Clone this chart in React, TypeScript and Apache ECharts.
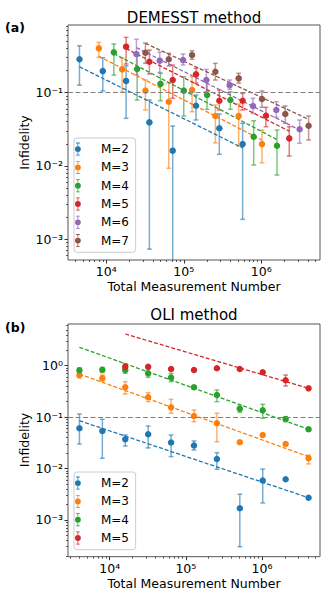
import React, { useEffect, useRef } from 'react';
import * as echarts from 'echarts';

const FONT = '"DejaVu Sans", sans-serif';
const COLORS = ['#1f77b4', '#ff7f0e', '#2ca02c', '#d62728', '#9467bd', '#8c564b'];

// ---------- Panel (a): DEMESST method ----------
const demessNames = ['M=2', 'M=3', 'M=4', 'M=5', 'M=6', 'M=7'];
const demessX = [
  [4500, 9000, 18000, 36000, 72000, 144000, 288000, 576000],
  [8000, 16000, 32000, 64000, 128000, 256000, 512000, 1024000],
  [12500, 25000, 50000, 100000, 200000, 400000, 800000, 1600000],
  [18000, 36000, 72000, 144000, 288000, 576000, 1152000, 2304000],
  [24500, 49000, 98000, 196000, 392000, 784000, 1568000, 3136000],
  [32000, 64000, 128000, 256000, 512000, 1024000, 2048000, 4096000],
];
const demessY = [
  [0.284, 0.196, 0.144, 0.0392, 0.0161, 0.066, 0.0325, 0.0198],
  [0.401, 0.207, 0.106, 0.0749, 0.108, 0.0478, 0.0478, 0.0198],
  [0.353, 0.209, 0.131, 0.106, 0.0925, 0.079, 0.0249, 0.0188],
  [0.422, 0.263, 0.148, 0.177, 0.0773, 0.0773, 0.0482, 0.0237],
  [0.335, 0.272, 0.277, 0.148, 0.126, 0.0655, 0.0577, 0.0315],
  [0.349, 0.284, 0.325, 0.192, 0.156, 0.0815, 0.0509, 0.0352],
];
const demessLo = [
  [0.126, 0.105, 0.0445, 0.00073, 0.00001, 0.0422, 0.01435, 0.00186],
  [0.302, 0.1016, 0.0577, 0.00925, 0.0547, 0.0205, 0.0186, 0.011],
  [0.173, 0.079, 0.0773, 0.0478, 0.059, 0.059, 0.01026, 0.00749],
  [0.245, 0.179, 0.0834, 0.134, 0.0577, 0.0577, 0.0341, 0.0136],
  [0.173, 0.188, 0.237, 0.1026, 0.1107, 0.052, 0.0459, 0.0203],
  [0.25, 0.23, 0.284, 0.148, 0.134, 0.0628, 0.038, 0.0225],
];
const demessHi = [
  [0.434, 0.299, 0.232, 0.079, 0.0349, 0.0925, 0.0509, 0.038],
  [0.484, 0.296, 0.148, 0.135, 0.164, 0.0675, 0.0696, 0.0308],
  [0.459, 0.315, 0.183, 0.164, 0.148, 0.1026, 0.0412, 0.0308],
  [0.566, 0.38, 0.237, 0.214, 0.108, 0.0975, 0.0628, 0.0341],
  [0.532, 0.357, 0.335, 0.207, 0.148, 0.0834, 0.0749, 0.0422],
  [0.473, 0.343, 0.372, 0.25, 0.183, 0.105, 0.0655, 0.0478],
];
const demessFitX = [
  [4500, 576000], [8000, 1024000], [12500, 1600000],
  [18000, 2304000], [24500, 3136000], [32000, 4096000],
];
const demessFitY = [
  [0.2245, 0.01754], [0.312, 0.0225], [0.34, 0.0228],
  [0.397, 0.0297], [0.41, 0.0308], [0.469, 0.0431],
];
const demessXTicks = [1e4, 1e5, 1e6];
const demessYTicks = [1e-3, 1e-2, 1e-1];
const demessXRange = [3199, 5.75e6];
const demessYRange = [5.19e-4, 0.834];

// ---------- Panel (b): OLI method ----------
const oliNames = ['M=2', 'M=3', 'M=4', 'M=5'];
const oliX = [
  [4000, 8000, 16000, 32000, 64000, 128000, 256000, 512000, 1024000, 2048000, 4096000],
  [4000, 8000, 16000, 32000, 64000, 128000, 256000, 512000, 1024000, 2048000, 4096000],
  [4000, 8000, 16000, 32000, 64000, 128000, 256000, 512000, 1024000, 2048000, 4096000],
  [16000, 32000, 64000, 128000, 256000, 512000, 1024000, 2048000, 4096000],
];
const oliY = [
  [0.0605, 0.0537, 0.037, 0.0463, 0.0321, 0.028, 0.0153, 0.00168, 0.00585, 0.00616, 0.0027],
  [0.659, 0.569, 0.38, 0.243, 0.155, 0.105, 0.0757, 0.0324, 0.0449, 0.03, 0.0158],
  [0.814, 0.836, 0.825, 0.711, 0.589, 0.38, 0.269, 0.1456, 0.1356, 0.0918, 0.0579],
  [0.956, 0.956, 0.863, 0.825, 0.89, 0.863, 0.744, 0.52, 0.363],
];
const oliLo = [
  [0.03, 0.0158, 0.0274, 0.0251, 0.017, 0.0229, 0.00964, 0.000301, 0.00213, 0.00616, 0.0027],
  [0.576, 0.504, 0.281, 0.1995, 0.1186, 0.0814, 0.0332, 0.0324, 0.0449, 0.03, 0.01224],
  [0.721, 0.737, 0.711, 0.594, 0.489, 0.352, 0.1995, 0.124, 0.0948, 0.0814, 0.0536],
  [0.88, 0.956, 0.863, 0.825, 0.89, 0.863, 0.744, 0.403, 0.363],
];
const oliHi = [
  [0.1148, 0.0906, 0.0449, 0.0671, 0.0449, 0.0343, 0.0203, 0.00315, 0.00977, 0.00616, 0.0027],
  [0.754, 0.659, 0.489, 0.298, 0.222, 0.1375, 0.1186, 0.0324, 0.0449, 0.03, 0.0183],
  [0.902, 0.923, 1.03, 0.851, 0.711, 0.408, 0.337, 0.164, 0.1775, 0.1018, 0.0627],
  [1.1, 0.956, 0.863, 0.825, 0.89, 0.863, 0.744, 0.659, 0.363],
];
const oliFitX = [[4000, 4096000], [4000, 4096000], [4000, 4096000], [16000, 4096000]];
const oliFitY = [[0.0851, 0.0027], [0.69, 0.017], [2.28, 0.058], [4.14, 0.363]];
const oliXTicks = [1e4, 1e5, 1e6];
const oliYTicks = [1e-3, 1e-2, 1e-1, 1e0];
const oliXRange = [2831, 5.79e6];
const oliYRange = [1.92e-4, 6.48];

const thresholdY = 0.1;

// ---------- helpers ----------
const SUP = '⁰¹²³⁴⁵⁶⁷⁸⁹';
function sup(n: number): string {
  return String(n).split('').map((c) => (c === '-' ? '⁻' : SUP[+c])).join('');
}
const fmtPow = (v: number) => '10' + sup(Math.round(Math.log10(v)));

function minorTicks(lo: number, hi: number): number[] {
  const out: number[] = [];
  for (let e = Math.floor(Math.log10(lo)); e <= Math.ceil(Math.log10(hi)); e++) {
    for (let k = 2; k <= 9; k++) {
      const v = k * Math.pow(10, e);
      if (v >= lo && v <= hi) out.push(v);
    }
  }
  return out;
}

const ERR_ICON =
  'path://M1.6,0.3H5.4V1.1H1.6Z M3.1,1.1H3.9V12.9H3.1Z M1.6,12.9H5.4V13.7H1.6Z M0.5,7A3,3 0 1 1 6.5,7A3,3 0 1 1 0.5,7Z';

const TICK_COLOR = '#333';

function axisPair(dim: 'x' | 'y', grid: number, range: number[], ticks: number[]) {
  const pos = dim === 'x' ? 'bottom' : 'left';
  const major = {
    type: 'log',
    logBase: 10,
    gridIndex: grid,
    min: range[0],
    max: range[1],
    position: pos,
    axisLine: { show: false },
    splitLine: { show: false },
    minorTick: { show: false },
    axisTick: { show: true, customValues: ticks, length: 3.5, lineStyle: { color: TICK_COLOR, width: 1 } },
    axisLabel: {
      customValues: ticks,
      formatter: fmtPow,
      margin: dim === 'x' ? 5.5 : 5,
      fontSize: 12.5,
      lineHeight: 12,
      color: '#000',
      fontFamily: FONT,
    },
  };
  const minor = {
    type: 'log',
    logBase: 10,
    gridIndex: grid,
    min: range[0],
    max: range[1],
    position: pos,
    axisLine: { show: false },
    splitLine: { show: false },
    minorTick: { show: false },
    axisTick: { show: true, customValues: minorTicks(range[0], range[1]), length: 2, lineStyle: { color: TICK_COLOR, width: 0.8 } },
    axisLabel: { show: false },
  };
  return [major, minor];
}

function errRender(color: string) {
  return (params: any, api: any) => {
    const x = api.value(0);
    const lo = api.value(1);
    const hi = api.value(2);
    const cs = params.coordSys;
    const bottom = cs.y + cs.height;
    const pHi = api.coord([x, hi]);
    const pLo = api.coord([x, lo]);
    const clipped = !(pLo[1] <= bottom);
    const yLo = clipped ? bottom : pLo[1];
    const px = pHi[0];
    const st = { stroke: color, lineWidth: 1.5, opacity: 0.6 };
    const cw = 2.4;
    const children: any[] = [
      { type: 'line', shape: { x1: px, y1: yLo, x2: px, y2: pHi[1] }, style: st },
      { type: 'line', shape: { x1: px - cw, y1: pHi[1], x2: px + cw, y2: pHi[1] }, style: st },
    ];
    if (!clipped) {
      children.push({ type: 'line', shape: { x1: px - cw, y1: yLo, x2: px + cw, y2: yLo }, style: st });
    }
    return { type: 'group', children };
  };
}

function panelSeries(
  axisIdx: number,
  names: string[],
  xs: number[][],
  ys: number[][],
  los: number[][],
  his: number[][],
  fitX: number[][],
  fitY: number[][],
  tag: string
) {
  const out: any[] = [];
  names.forEach((name, i) => {
    const color = COLORS[i];
    out.push({
      type: 'custom',
      name: `${tag}-err-${name}`,
      xAxisIndex: axisIdx,
      yAxisIndex: axisIdx,
      silent: true,
      z: 2,
      encode: { x: 0, y: [1, 2] },
      data: xs[i].map((x, j) => [x, los[i][j], his[i][j]]),
      renderItem: errRender(color),
    });
    out.push({
      type: 'scatter',
      name,
      xAxisIndex: axisIdx,
      yAxisIndex: axisIdx,
      symbol: 'circle',
      symbolSize: 6.5,
      z: 4,
      itemStyle: { color, opacity: 1 },
      data: xs[i].map((x, j) => [x, ys[i][j]]),
    });
    const fit: any = {
      type: 'line',
      name: `${tag}-fit-${name}`,
      xAxisIndex: axisIdx,
      yAxisIndex: axisIdx,
      symbol: 'none',
      showSymbol: false,
      silent: true,
      z: 3,
      lineStyle: { color, width: 1.3, type: [4, 2] },
      itemStyle: { color },
      data: [
        [fitX[i][0], fitY[i][0]],
        [fitX[i][1], fitY[i][1]],
      ],
    };
    if (i === 0) {
      fit.markLine = {
        silent: true,
        symbol: 'none',
        label: { show: false },
        lineStyle: { color: '#808080', width: 1.2, type: [5, 2.5] },
        data: [{ yAxis: thresholdY }],
      };
    }
    out.push(fit);
  });
  return out;
}

function legendCfg(names: string[], top: number) {
  return {
    data: names.map((n) => ({ name: n, icon: ERR_ICON })),
    orient: 'vertical',
    left: 74,
    top,
    itemWidth: 36,
    itemHeight: 13,
    itemGap: 5.3,
    padding: [4.6, 6.7, 5.2, 1],
    selectedMode: false,
    backgroundColor: 'rgba(255,255,255,0.8)',
    borderColor: '#cccccc',
    borderWidth: 1,
    borderRadius: 3,
    symbolKeepAspect: true,
    textStyle: { fontFamily: FONT, fontSize: 12, color: '#000' },
  };
}

function txt(text: string, x: number, y: number, size: number, extra: any = {}) {
  return {
    type: 'text',
    x,
    y,
    rotation: extra.rotation || 0,
    silent: true,
    style: {
      text,
      fontSize: size,
      lineHeight: Math.round(size),
      fontFamily: FONT,
      fontWeight: extra.bold ? 'bold' : 'normal',
      fill: '#000',
      align: extra.align || 'center',
      verticalAlign: 'middle',
    },
  };
}

export default function App() {
  const ref = useRef<HTMLDivElement>(null);
  useEffect(() => {
    if (!ref.current) return;
    const chart = echarts.init(ref.current, null, { renderer: 'svg' });
    const [ax0, ax0m] = axisPair('x', 0, demessXRange, demessXTicks);
    const [ay0, ay0m] = axisPair('y', 0, demessYRange, demessYTicks);
    const [ax1, ax1m] = axisPair('x', 1, oliXRange, oliXTicks);
    const [ay1, ay1m] = axisPair('y', 1, oliYRange, oliYTicks);
    const option: any = {
      animation: false,
      textStyle: { fontFamily: FONT },
      grid: [
        {
          left: 68, top: 25, width: 252, height: 235,
          show: true, borderColor: '#555', borderWidth: 1, backgroundColor: 'transparent',
          containLabel: false, outerBoundsMode: 'none',
        },
        {
          left: 68, top: 324, width: 252, height: 232.7,
          show: true, borderColor: '#555', borderWidth: 1, backgroundColor: 'transparent',
          containLabel: false, outerBoundsMode: 'none',
        },
      ],
      xAxis: [ax0, ax0m, ax1, ax1m],
      yAxis: [ay0, ay0m, ay1, ay1m],
      legend: [legendCfg(demessNames, 138), legendCfg(oliNames, 472)],
      series: [
        ...panelSeries(0, demessNames, demessX, demessY, demessLo, demessHi, demessFitX, demessFitY, 'a'),
        ...panelSeries(2, oliNames, oliX, oliY, oliLo, oliHi, oliFitX, oliFitY, 'b'),
      ],
      graphic: [
        txt('DEMESST method', 194, 17.5, 15),
        txt('(a)', 5, 27, 12.5, { bold: true, align: 'left' }),
        txt('Infidelity', 24, 142.5, 12.5, { rotation: Math.PI / 2 }),
        txt('Total Measurement Number', 194, 286.5, 12.5),
        txt('OLI method', 194, 314.5, 15),
        txt('(b)', 5, 327, 12.5, { bold: true, align: 'left' }),
        txt('Infidelity', 24, 440, 12.5, { rotation: Math.PI / 2 }),
        txt('Total Measurement Number', 194, 583, 12.5),
      ],
    };
    chart.setOption(option);
    return () => chart.dispose();
  }, []);
  return (
    <div
      ref={ref}
      style={{ position: 'absolute', left: 0, top: 0, width: 331, height: 601 }}
    />
  );
}
